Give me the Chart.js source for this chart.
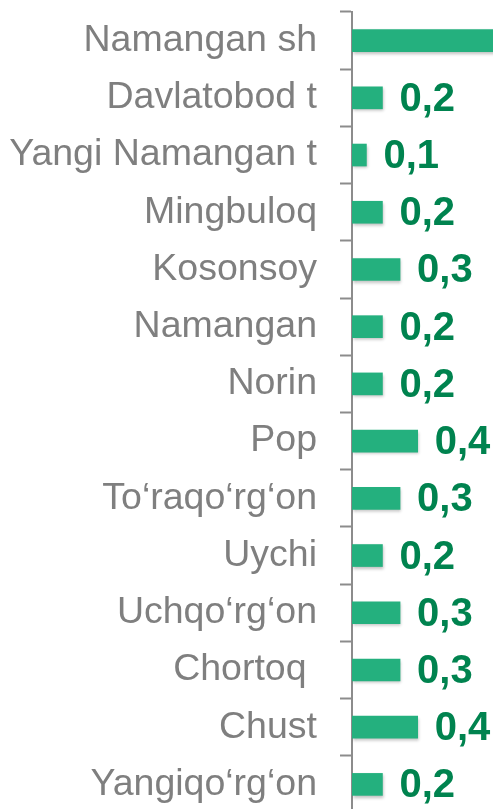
<!DOCTYPE html>
<html>
<head>
<meta charset="utf-8">
<script src="https://cdn.jsdelivr.net/npm/chart.js@4"></script>
<style>
  html, body { margin: 0; padding: 0; background: #fff; overflow: hidden; }
  .wrap { position: relative; width: 493px; height: 813px; }
</style>
</head>
<body>
<div class="wrap"><canvas id="myChart"></canvas></div>
<script>
// districts, top to bottom
const districts = [
  'Namangan sh', 'Davlatobod t', 'Yangi Namangan t', 'Mingbuloq', 'Kosonsoy',
  'Namangan', 'Norin', 'Pop', 'To‘raqo‘rg‘on', 'Uychi',
  'Uchqo‘rg‘on', 'Chortoq ', 'Chust', 'Yangiqo‘rg‘on'
];
// values (first bar runs off the picture)
const values = [1.4, 0.19, 0.09, 0.19, 0.3, 0.19, 0.19, 0.41, 0.3, 0.19, 0.3, 0.3, 0.41, 0.19];

const fmt = (v) => v.toFixed(1).replace('.', ',');

// value labels after each bar
const barLabels = {
  id: 'barLabels',
  afterDatasetsDraw(chart) {
    const { ctx, chartArea } = chart;
    const meta = chart.getDatasetMeta(0);
    ctx.save();
    ctx.font = 'bold 40px "Liberation Sans", Arial, sans-serif';
    ctx.fillStyle = '#00834f';
    ctx.textAlign = 'left';
    ctx.textBaseline = 'middle';
    meta.data.forEach((bar, i) => {
      if (bar.x + 10 > chartArea.right) return;
      ctx.fillText(fmt(values[i]), bar.x + 17, bar.y + 2);
    });
    ctx.restore();
  }
};

// soft shadow under the bars
const barShadow = {
  id: 'barShadow',
  beforeDatasetsDraw(chart) {
    const ctx = chart.ctx;
    ctx.save();
    ctx.shadowColor = 'rgba(0,0,0,0.25)';
    ctx.shadowBlur = 3;
    ctx.shadowOffsetX = 1;
    ctx.shadowOffsetY = 2;
  },
  afterDatasetsDraw(chart) {
    chart.ctx.restore();
  }
};

const ctx = document.getElementById('myChart').getContext('2d');
const myChart = new Chart(ctx, {
  type: 'bar',
  data: {
    labels: districts,
    datasets: [
      {
        data: values,
        backgroundColor: '#24b07e',
        borderWidth: 0,
        barThickness: 22,
      },
    ],
  },
  options: {
    indexAxis: 'y',
    responsive: true,
    maintainAspectRatio: false,
    animation: false,
    layout: { padding: { top: 12, right: 0, bottom: 0, left: 0 } },
    plugins: {
      legend: { display: false },
      tooltip: { enabled: false },
    },
    scales: {
      x: {
        display: false,
        min: 0,
        max: 0.88,
      },
      y: {
        afterFit(scale) {
          scale.width = 352;
          scale.paddingTop = 0;
          scale.paddingBottom = 0;
        },
        border: { display: true, color: '#8c8c8c', width: 2 },
        grid: {
          drawOnChartArea: false,
          drawTicks: true,
          tickLength: 12,
          tickWidth: 2,
          tickColor: '#8c8c8c',
          offset: true,
        },
        ticks: {
          color: '#7f7f7f',
          padding: 23,
          font: { family: '"Liberation Sans", Arial, sans-serif', size: 37.5 },
        },
      },
    },
  },
  plugins: [barShadow, barLabels],
});
</script>
</body>
</html>
